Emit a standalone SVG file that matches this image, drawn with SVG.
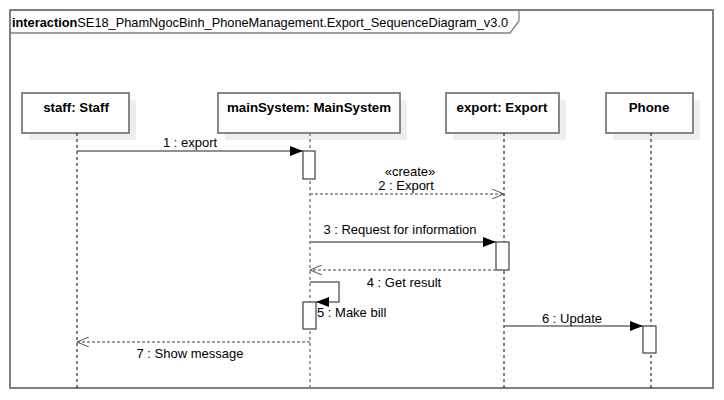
<svg xmlns="http://www.w3.org/2000/svg" width="724" height="400" viewBox="0 0 724 400">
<defs>
<style>
text{font-family:"Liberation Sans",Arial,sans-serif;fill:#000}
.head{fill:#fff;stroke:#6b6b6b;stroke-width:1.6}
.shadow{fill:#eeeeee}
.hl{font-size:13.3px;font-weight:bold;text-anchor:middle}
.lbl{font-size:13px;text-anchor:middle}
.life{stroke:#000;stroke-width:1;stroke-dasharray:3,3;fill:none}
.lifeg{stroke:#808080;stroke-width:1.5;stroke-dasharray:3,3;fill:none}
.act{fill:#fff;stroke:#404040;stroke-width:1.2}
.msg{stroke:#6b6b6b;stroke-width:1.5;fill:none}
.ret{stroke:#808080;stroke-width:1.3;stroke-dasharray:3,2;fill:none}
</style>
<marker id="filled" markerWidth="14" markerHeight="10" refX="13" refY="5" orient="auto" markerUnits="userSpaceOnUse">
<path d="M0,0 L13,5 L0,10 Z" fill="#000"/>
</marker>
<marker id="open" markerWidth="14" markerHeight="10" refX="12" refY="5" orient="auto" markerUnits="userSpaceOnUse">
<path d="M0,0 L12,5 L0,10" fill="none" stroke="#555" stroke-width="1"/>
</marker>
</defs>
<rect width="724" height="400" fill="#fff"/>
<g id="frame">
<rect x="10" y="10" width="703" height="378" fill="none" stroke="#808080" stroke-width="2"/>
<path d="M10,33 L510,33 L519,21 L519,10" fill="none" stroke="#808080" stroke-width="1.3"/>
<text x="12" y="27" font-size="13.5px" textLength="496" lengthAdjust="spacingAndGlyphs"><tspan font-weight="bold">interaction</tspan>SE18_PhamNgocBinh_PhoneManagement.Export_SequenceDiagram_v3.0</text>
</g>
<g id="staff">
<rect class="shadow" x="29" y="100" width="107" height="40"/>
<rect class="head" x="22" y="93" width="107" height="40"/>
<text class="hl" x="76" y="112">staff: Staff</text>
<line class="life" x1="77" y1="133" x2="77" y2="388"/>
</g>
<g id="mainSystem">
<rect class="shadow" x="225" y="100" width="182" height="40"/>
<rect class="head" x="218" y="93" width="182" height="40"/>
<text class="hl" x="309" y="112">mainSystem: MainSystem</text>
<line class="lifeg" x1="310" y1="133" x2="310" y2="388"/>
<rect class="act" x="303" y="151" width="12" height="28"/>
<rect class="act" x="303" y="302" width="13" height="27"/>
</g>
<g id="export">
<rect class="shadow" x="453" y="100" width="113" height="40"/>
<rect class="head" x="446" y="93" width="113" height="40"/>
<text class="hl" x="502" y="112">export: Export</text>
<line class="life" x1="504" y1="133" x2="504" y2="388"/>
<rect class="act" x="496" y="242" width="13" height="28"/>
</g>
<g id="phone">
<rect class="shadow" x="613" y="100" width="87" height="40"/>
<rect class="head" x="606" y="93" width="87" height="40"/>
<text class="hl" x="649" y="112">Phone</text>
<line class="life" x1="651" y1="133" x2="651" y2="388"/>
<rect class="act" x="643" y="326" width="13" height="27"/>
</g>
<g id="connectors">
<line class="msg" x1="77" y1="151" x2="303" y2="151" marker-end="url(#filled)"/>
<text class="lbl" x="190" y="147">1 : export</text>
<line class="ret" x1="310" y1="194" x2="504" y2="194" marker-end="url(#open)"/>
<text class="lbl" x="410" y="176">«create»</text>
<text class="lbl" x="406" y="190">2 : Export</text>
<line class="msg" x1="310" y1="242" x2="496" y2="242" marker-end="url(#filled)"/>
<text class="lbl" x="400" y="234">3 : Request for information</text>
<line class="ret" x1="496" y1="270" x2="310" y2="270" marker-end="url(#open)"/>
<text class="lbl" x="404" y="287">4 : Get result</text>
<path class="msg" d="M310,282 L339,282 L339,302 L316,302" marker-end="url(#filled)"/>
<text x="317" y="317" font-size="13px">5 : Make bill</text>
<line class="msg" x1="504" y1="326" x2="643" y2="326" marker-end="url(#filled)"/>
<text class="lbl" x="572" y="323">6 : Update</text>
<line class="ret" x1="310" y1="342" x2="77" y2="342" marker-end="url(#open)"/>
<text class="lbl" x="190" y="358">7 : Show message</text>
</g>
</svg>
